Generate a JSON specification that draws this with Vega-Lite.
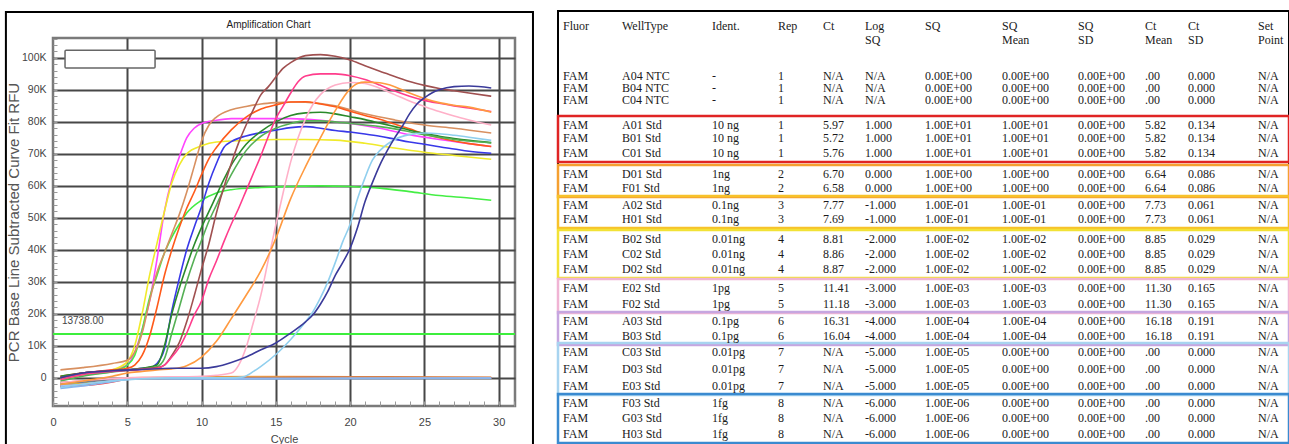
{
"$schema": "https://vega.github.io/schema/vega-lite/v6.json",
"background": "white",
"padding": {"left": 3, "top": 9, "right": 0, "bottom": 0},
"spacing": 20,
"config": {"font": "Liberation Sans", "view": {"stroke": null}},
"datasets": {
"curves": [
{"well":"A04","cycle":0.5,"rfu":-2200},{"well":"A04","cycle":2,"rfu":-1800},{"well":"A04","cycle":4,"rfu":-800},{"well":"A04","cycle":5,"rfu":-200},{"well":"A04","cycle":6,"rfu":100},{"well":"A04","cycle":10,"rfu":300},{"well":"A04","cycle":16,"rfu":400},{"well":"A04","cycle":22,"rfu":300},{"well":"A04","cycle":29.5,"rfu":200},
{"well":"C04","cycle":0.5,"rfu":-2800},{"well":"C04","cycle":2,"rfu":-2200},{"well":"C04","cycle":4,"rfu":-1000},{"well":"C04","cycle":5,"rfu":-300},{"well":"C04","cycle":7,"rfu":0},{"well":"C04","cycle":16,"rfu":0},{"well":"C04","cycle":20,"rfu":-100},{"well":"C04","cycle":29.5,"rfu":0},
{"well":"C03","cycle":0.5,"rfu":-2000},{"well":"C03","cycle":2,"rfu":-1500},{"well":"C03","cycle":4,"rfu":-600},{"well":"C03","cycle":6,"rfu":0},{"well":"C03","cycle":12,"rfu":100},{"well":"C03","cycle":21,"rfu":0},{"well":"C03","cycle":29.5,"rfu":0},
{"well":"D03","cycle":0.5,"rfu":-1500},{"well":"D03","cycle":2,"rfu":-1000},{"well":"D03","cycle":4,"rfu":-500},{"well":"D03","cycle":6,"rfu":0},{"well":"D03","cycle":14,"rfu":100},{"well":"D03","cycle":22,"rfu":200},{"well":"D03","cycle":29.5,"rfu":100},
{"well":"E03","cycle":0.5,"rfu":-2500},{"well":"E03","cycle":2,"rfu":-2400},{"well":"E03","cycle":4,"rfu":-1300},{"well":"E03","cycle":5,"rfu":-400},{"well":"E03","cycle":7,"rfu":0},{"well":"E03","cycle":29.5,"rfu":0},
{"well":"G03","cycle":0.5,"rfu":-1800},{"well":"G03","cycle":3,"rfu":-1000},{"well":"G03","cycle":5,"rfu":-200},{"well":"G03","cycle":29.5,"rfu":0},
{"well":"H03","cycle":0.5,"rfu":-2400},{"well":"H03","cycle":3,"rfu":-1600},{"well":"H03","cycle":5,"rfu":-300},{"well":"H03","cycle":29.5,"rfu":50},
{"well":"F03","cycle":0.5,"rfu":-2600},{"well":"F03","cycle":2,"rfu":-2000},{"well":"F03","cycle":4,"rfu":-900},{"well":"F03","cycle":6,"rfu":-200},{"well":"F03","cycle":10,"rfu":-200},{"well":"F03","cycle":29.5,"rfu":-100},
{"well":"B04","cycle":0.5,"rfu":-3300},{"well":"B04","cycle":2,"rfu":-2500},{"well":"B04","cycle":4,"rfu":-1200},{"well":"B04","cycle":5,"rfu":-500},{"well":"B04","cycle":6,"rfu":-300},{"well":"B04","cycle":12,"rfu":-400},{"well":"B04","cycle":20,"rfu":-200},{"well":"B04","cycle":29.5,"rfu":-100},
{"well":"A01","cycle":0.5,"rfu":300},{"well":"A01","cycle":2,"rfu":1500},{"well":"A01","cycle":4,"rfu":2500},{"well":"A01","cycle":5,"rfu":4000},{"well":"A01","cycle":5.5,"rfu":8000},{"well":"A01","cycle":6,"rfu":15000},{"well":"A01","cycle":6.5,"rfu":24000},{"well":"A01","cycle":7,"rfu":37000},{"well":"A01","cycle":7.5,"rfu":52000},{"well":"A01","cycle":8,"rfu":62000},{"well":"A01","cycle":8.5,"rfu":69000},{"well":"A01","cycle":9,"rfu":75000},{"well":"A01","cycle":9.5,"rfu":78000},{"well":"A01","cycle":10,"rfu":79500},{"well":"A01","cycle":11,"rfu":80500},{"well":"A01","cycle":12,"rfu":81000},{"well":"A01","cycle":14,"rfu":81000},{"well":"A01","cycle":16,"rfu":81000},{"well":"A01","cycle":18,"rfu":80500},{"well":"A01","cycle":20,"rfu":79500},{"well":"A01","cycle":22,"rfu":78000},{"well":"A01","cycle":24,"rfu":76000},{"well":"A01","cycle":26,"rfu":74500},{"well":"A01","cycle":28,"rfu":73200},{"well":"A01","cycle":29.5,"rfu":72300},
{"well":"B01","cycle":0.5,"rfu":-500},{"well":"B01","cycle":2,"rfu":1000},{"well":"B01","cycle":4,"rfu":2500},{"well":"B01","cycle":5,"rfu":5000},{"well":"B01","cycle":5.5,"rfu":10000},{"well":"B01","cycle":6,"rfu":20000},{"well":"B01","cycle":6.5,"rfu":32000},{"well":"B01","cycle":7,"rfu":42000},{"well":"B01","cycle":7.5,"rfu":52000},{"well":"B01","cycle":8,"rfu":61000},{"well":"B01","cycle":8.5,"rfu":66500},{"well":"B01","cycle":9,"rfu":70000},{"well":"B01","cycle":10,"rfu":72500},{"well":"B01","cycle":11,"rfu":73700},{"well":"B01","cycle":13,"rfu":74200},{"well":"B01","cycle":15,"rfu":74500},{"well":"B01","cycle":17,"rfu":74500},{"well":"B01","cycle":19,"rfu":74300},{"well":"B01","cycle":21,"rfu":73300},{"well":"B01","cycle":23,"rfu":71800},{"well":"B01","cycle":25,"rfu":70500},{"well":"B01","cycle":27,"rfu":69500},{"well":"B01","cycle":29.5,"rfu":68300},
{"well":"C01","cycle":0.5,"rfu":0},{"well":"C01","cycle":2,"rfu":1000},{"well":"C01","cycle":4,"rfu":2000},{"well":"C01","cycle":5,"rfu":4000},{"well":"C01","cycle":5.5,"rfu":7000},{"well":"C01","cycle":6,"rfu":15000},{"well":"C01","cycle":6.5,"rfu":25000},{"well":"C01","cycle":7,"rfu":32000},{"well":"C01","cycle":7.5,"rfu":39000},{"well":"C01","cycle":8,"rfu":44000},{"well":"C01","cycle":8.5,"rfu":48000},{"well":"C01","cycle":9,"rfu":51500},{"well":"C01","cycle":10,"rfu":55500},{"well":"C01","cycle":11,"rfu":57800},{"well":"C01","cycle":12,"rfu":58800},{"well":"C01","cycle":14,"rfu":59500},{"well":"C01","cycle":16,"rfu":59800},{"well":"C01","cycle":18,"rfu":60000},{"well":"C01","cycle":20,"rfu":59800},{"well":"C01","cycle":22,"rfu":59300},{"well":"C01","cycle":24,"rfu":58200},{"well":"C01","cycle":26,"rfu":57000},{"well":"C01","cycle":28,"rfu":56200},{"well":"C01","cycle":29.5,"rfu":55500},
{"well":"D01","cycle":0.5,"rfu":2500},{"well":"D01","cycle":2,"rfu":3200},{"well":"D01","cycle":4,"rfu":4500},{"well":"D01","cycle":5,"rfu":5500},{"well":"D01","cycle":5.5,"rfu":8000},{"well":"D01","cycle":6,"rfu":14000},{"well":"D01","cycle":6.5,"rfu":24000},{"well":"D01","cycle":7,"rfu":33000},{"well":"D01","cycle":7.5,"rfu":39000},{"well":"D01","cycle":8,"rfu":45000},{"well":"D01","cycle":8.5,"rfu":51000},{"well":"D01","cycle":9,"rfu":58000},{"well":"D01","cycle":9.5,"rfu":66000},{"well":"D01","cycle":10,"rfu":74000},{"well":"D01","cycle":10.5,"rfu":79000},{"well":"D01","cycle":11,"rfu":81500},{"well":"D01","cycle":12,"rfu":83800},{"well":"D01","cycle":13,"rfu":84800},{"well":"D01","cycle":14,"rfu":85600},{"well":"D01","cycle":15,"rfu":86000},{"well":"D01","cycle":16,"rfu":86200},{"well":"D01","cycle":17,"rfu":86100},{"well":"D01","cycle":19,"rfu":85000},{"well":"D01","cycle":21,"rfu":82500},{"well":"D01","cycle":23,"rfu":80600},{"well":"D01","cycle":25,"rfu":79000},{"well":"D01","cycle":27,"rfu":78000},{"well":"D01","cycle":29.5,"rfu":76500},
{"well":"F01","cycle":0.5,"rfu":500},{"well":"F01","cycle":2,"rfu":1500},{"well":"F01","cycle":4,"rfu":2500},{"well":"F01","cycle":5,"rfu":3000},{"well":"F01","cycle":5.5,"rfu":4000},{"well":"F01","cycle":6,"rfu":7000},{"well":"F01","cycle":6.5,"rfu":13000},{"well":"F01","cycle":7,"rfu":22000},{"well":"F01","cycle":7.5,"rfu":32000},{"well":"F01","cycle":8,"rfu":40000},{"well":"F01","cycle":8.5,"rfu":47000},{"well":"F01","cycle":9,"rfu":53000},{"well":"F01","cycle":9.5,"rfu":58000},{"well":"F01","cycle":10,"rfu":63500},{"well":"F01","cycle":10.5,"rfu":68500},{"well":"F01","cycle":11,"rfu":72000},{"well":"F01","cycle":12,"rfu":77500},{"well":"F01","cycle":13,"rfu":81500},{"well":"F01","cycle":14,"rfu":84000},{"well":"F01","cycle":15,"rfu":85300},{"well":"F01","cycle":16,"rfu":86200},{"well":"F01","cycle":17,"rfu":86300},{"well":"F01","cycle":18,"rfu":85600},{"well":"F01","cycle":19,"rfu":84700},{"well":"F01","cycle":20,"rfu":83300},{"well":"F01","cycle":21,"rfu":82000},{"well":"F01","cycle":22,"rfu":80800},{"well":"F01","cycle":23,"rfu":79300},{"well":"F01","cycle":24,"rfu":77800},{"well":"F01","cycle":25,"rfu":76200},{"well":"F01","cycle":26,"rfu":75000},{"well":"F01","cycle":27,"rfu":74000},{"well":"F01","cycle":28,"rfu":73200},{"well":"F01","cycle":29.5,"rfu":72300},
{"well":"A02","cycle":0.5,"rfu":0},{"well":"A02","cycle":2,"rfu":1500},{"well":"A02","cycle":4,"rfu":2200},{"well":"A02","cycle":5,"rfu":2500},{"well":"A02","cycle":6,"rfu":3000},{"well":"A02","cycle":6.5,"rfu":3200},{"well":"A02","cycle":7,"rfu":4500},{"well":"A02","cycle":7.5,"rfu":9000},{"well":"A02","cycle":8,"rfu":21000},{"well":"A02","cycle":8.5,"rfu":31000},{"well":"A02","cycle":9,"rfu":40000},{"well":"A02","cycle":9.5,"rfu":47000},{"well":"A02","cycle":10,"rfu":53500},{"well":"A02","cycle":10.5,"rfu":61000},{"well":"A02","cycle":11,"rfu":67000},{"well":"A02","cycle":11.5,"rfu":72000},{"well":"A02","cycle":12,"rfu":73800},{"well":"A02","cycle":13,"rfu":75600},{"well":"A02","cycle":14,"rfu":76600},{"well":"A02","cycle":15,"rfu":77400},{"well":"A02","cycle":16,"rfu":78200},{"well":"A02","cycle":17,"rfu":78500},{"well":"A02","cycle":18,"rfu":78000},{"well":"A02","cycle":19,"rfu":77300},{"well":"A02","cycle":20,"rfu":76800},{"well":"A02","cycle":21,"rfu":76200},{"well":"A02","cycle":22,"rfu":75500},{"well":"A02","cycle":23,"rfu":74600},{"well":"A02","cycle":24,"rfu":73700},{"well":"A02","cycle":25,"rfu":73000},{"well":"A02","cycle":26,"rfu":72200},{"well":"A02","cycle":27,"rfu":71500},{"well":"A02","cycle":28,"rfu":70800},{"well":"A02","cycle":29.5,"rfu":70200},
{"well":"H01","cycle":0.5,"rfu":500},{"well":"H01","cycle":2,"rfu":1500},{"well":"H01","cycle":4,"rfu":2200},{"well":"H01","cycle":5,"rfu":2500},{"well":"H01","cycle":6,"rfu":3000},{"well":"H01","cycle":7,"rfu":4000},{"well":"H01","cycle":7.5,"rfu":10000},{"well":"H01","cycle":8,"rfu":20000},{"well":"H01","cycle":8.5,"rfu":28000},{"well":"H01","cycle":9,"rfu":35000},{"well":"H01","cycle":9.5,"rfu":41500},{"well":"H01","cycle":10,"rfu":47000},{"well":"H01","cycle":10.5,"rfu":52000},{"well":"H01","cycle":11,"rfu":57000},{"well":"H01","cycle":11.5,"rfu":62000},{"well":"H01","cycle":12,"rfu":66500},{"well":"H01","cycle":12.5,"rfu":70000},{"well":"H01","cycle":13,"rfu":73000},{"well":"H01","cycle":14,"rfu":77000},{"well":"H01","cycle":15,"rfu":80000},{"well":"H01","cycle":16,"rfu":82000},{"well":"H01","cycle":17,"rfu":82800},{"well":"H01","cycle":18,"rfu":83000},{"well":"H01","cycle":19,"rfu":82500},{"well":"H01","cycle":20,"rfu":81600},{"well":"H01","cycle":21,"rfu":80700},{"well":"H01","cycle":22,"rfu":79600},{"well":"H01","cycle":23,"rfu":78500},{"well":"H01","cycle":24,"rfu":77400},{"well":"H01","cycle":25,"rfu":76400},{"well":"H01","cycle":26,"rfu":75500},{"well":"H01","cycle":27,"rfu":74800},{"well":"H01","cycle":28,"rfu":74200},{"well":"H01","cycle":29.5,"rfu":73500},
{"well":"B02","cycle":0.5,"rfu":-1000},{"well":"B02","cycle":2,"rfu":500},{"well":"B02","cycle":4,"rfu":1800},{"well":"B02","cycle":5,"rfu":2300},{"well":"B02","cycle":6,"rfu":2800},{"well":"B02","cycle":7,"rfu":3500},{"well":"B02","cycle":7.5,"rfu":6000},{"well":"B02","cycle":8,"rfu":14000},{"well":"B02","cycle":8.5,"rfu":22000},{"well":"B02","cycle":9,"rfu":30000},{"well":"B02","cycle":9.5,"rfu":37000},{"well":"B02","cycle":10,"rfu":43000},{"well":"B02","cycle":10.5,"rfu":49000},{"well":"B02","cycle":11,"rfu":54000},{"well":"B02","cycle":11.5,"rfu":59000},{"well":"B02","cycle":12,"rfu":63500},{"well":"B02","cycle":12.5,"rfu":67500},{"well":"B02","cycle":13,"rfu":71000},{"well":"B02","cycle":14,"rfu":75500},{"well":"B02","cycle":15,"rfu":78000},{"well":"B02","cycle":16,"rfu":79500},{"well":"B02","cycle":17,"rfu":80300},{"well":"B02","cycle":18,"rfu":80300},{"well":"B02","cycle":19,"rfu":80000},{"well":"B02","cycle":20,"rfu":79500},{"well":"B02","cycle":21,"rfu":79000},{"well":"B02","cycle":22,"rfu":78500},{"well":"B02","cycle":23,"rfu":77800},{"well":"B02","cycle":24,"rfu":76900},{"well":"B02","cycle":25,"rfu":76000},{"well":"B02","cycle":26,"rfu":75200},{"well":"B02","cycle":27,"rfu":74500},{"well":"B02","cycle":28,"rfu":74000},{"well":"B02","cycle":29.5,"rfu":73400},
{"well":"C02","cycle":0.5,"rfu":0},{"well":"C02","cycle":2,"rfu":1500},{"well":"C02","cycle":4,"rfu":2300},{"well":"C02","cycle":6,"rfu":2800},{"well":"C02","cycle":7,"rfu":3200},{"well":"C02","cycle":7.5,"rfu":4000},{"well":"C02","cycle":8,"rfu":7000},{"well":"C02","cycle":8.5,"rfu":11000},{"well":"C02","cycle":9,"rfu":17500},{"well":"C02","cycle":9.5,"rfu":25500},{"well":"C02","cycle":10,"rfu":34000},{"well":"C02","cycle":10.5,"rfu":42000},{"well":"C02","cycle":11,"rfu":51500},{"well":"C02","cycle":11.5,"rfu":59500},{"well":"C02","cycle":12,"rfu":67000},{"well":"C02","cycle":12.5,"rfu":73500},{"well":"C02","cycle":13,"rfu":79000},{"well":"C02","cycle":13.5,"rfu":84000},{"well":"C02","cycle":14,"rfu":88500},{"well":"C02","cycle":14.5,"rfu":91000},{"well":"C02","cycle":15,"rfu":94000},{"well":"C02","cycle":15.5,"rfu":96800},{"well":"C02","cycle":16,"rfu":98500},{"well":"C02","cycle":17,"rfu":100700},{"well":"C02","cycle":18,"rfu":101000},{"well":"C02","cycle":19,"rfu":100500},{"well":"C02","cycle":20,"rfu":99300},{"well":"C02","cycle":21,"rfu":97500},{"well":"C02","cycle":22,"rfu":95800},{"well":"C02","cycle":23,"rfu":94200},{"well":"C02","cycle":24,"rfu":92600},{"well":"C02","cycle":25,"rfu":91400},{"well":"C02","cycle":26,"rfu":90400},{"well":"C02","cycle":27,"rfu":89700},{"well":"C02","cycle":28,"rfu":89000},{"well":"C02","cycle":29.5,"rfu":88000},
{"well":"D02","cycle":0.5,"rfu":-500},{"well":"D02","cycle":2,"rfu":1000},{"well":"D02","cycle":4,"rfu":2000},{"well":"D02","cycle":6,"rfu":2600},{"well":"D02","cycle":7,"rfu":3000},{"well":"D02","cycle":7.5,"rfu":4000},{"well":"D02","cycle":8,"rfu":6500},{"well":"D02","cycle":8.5,"rfu":9500},{"well":"D02","cycle":9,"rfu":14000},{"well":"D02","cycle":9.5,"rfu":19500},{"well":"D02","cycle":10,"rfu":24000},{"well":"D02","cycle":10.5,"rfu":31000},{"well":"D02","cycle":11,"rfu":36500},{"well":"D02","cycle":11.5,"rfu":42500},{"well":"D02","cycle":12,"rfu":48000},{"well":"D02","cycle":12.5,"rfu":53000},{"well":"D02","cycle":13,"rfu":58500},{"well":"D02","cycle":13.5,"rfu":64000},{"well":"D02","cycle":14,"rfu":69500},{"well":"D02","cycle":14.5,"rfu":75500},{"well":"D02","cycle":15,"rfu":81000},{"well":"D02","cycle":15.5,"rfu":85000},{"well":"D02","cycle":16,"rfu":89000},{"well":"D02","cycle":16.5,"rfu":92500},{"well":"D02","cycle":17,"rfu":94300},{"well":"D02","cycle":18,"rfu":95000},{"well":"D02","cycle":19,"rfu":95000},{"well":"D02","cycle":20,"rfu":94400},{"well":"D02","cycle":21,"rfu":93200},{"well":"D02","cycle":22,"rfu":91500},{"well":"D02","cycle":23,"rfu":89600},{"well":"D02","cycle":24,"rfu":88000},{"well":"D02","cycle":25,"rfu":86700},{"well":"D02","cycle":26,"rfu":85800},{"well":"D02","cycle":27,"rfu":85000},{"well":"D02","cycle":28,"rfu":84300},{"well":"D02","cycle":29.5,"rfu":83200},
{"well":"E02","cycle":0.5,"rfu":-1500},{"well":"E02","cycle":3,"rfu":-500},{"well":"E02","cycle":5,"rfu":0},{"well":"E02","cycle":8,"rfu":300},{"well":"E02","cycle":10,"rfu":500},{"well":"E02","cycle":11,"rfu":800},{"well":"E02","cycle":12,"rfu":1500},{"well":"E02","cycle":12.5,"rfu":4000},{"well":"E02","cycle":13,"rfu":9500},{"well":"E02","cycle":13.5,"rfu":17500},{"well":"E02","cycle":14,"rfu":26000},{"well":"E02","cycle":14.5,"rfu":37000},{"well":"E02","cycle":15,"rfu":47800},{"well":"E02","cycle":15.5,"rfu":58000},{"well":"E02","cycle":16,"rfu":67500},{"well":"E02","cycle":16.5,"rfu":75000},{"well":"E02","cycle":17,"rfu":81000},{"well":"E02","cycle":17.5,"rfu":85500},{"well":"E02","cycle":18,"rfu":88500},{"well":"E02","cycle":19,"rfu":91500},{"well":"E02","cycle":20,"rfu":92300},{"well":"E02","cycle":21,"rfu":92000},{"well":"E02","cycle":22,"rfu":90500},{"well":"E02","cycle":23,"rfu":88500},{"well":"E02","cycle":24,"rfu":86500},{"well":"E02","cycle":25,"rfu":84800},{"well":"E02","cycle":26,"rfu":83200},{"well":"E02","cycle":27,"rfu":81800},{"well":"E02","cycle":28,"rfu":80600},{"well":"E02","cycle":29.5,"rfu":79000},
{"well":"F02","cycle":0.5,"rfu":-2000},{"well":"F02","cycle":2,"rfu":-1000},{"well":"F02","cycle":4,"rfu":500},{"well":"F02","cycle":5,"rfu":1500},{"well":"F02","cycle":6,"rfu":2000},{"well":"F02","cycle":7,"rfu":2500},{"well":"F02","cycle":8,"rfu":2800},{"well":"F02","cycle":9,"rfu":3800},{"well":"F02","cycle":10,"rfu":6500},{"well":"F02","cycle":11,"rfu":11400},{"well":"F02","cycle":12,"rfu":18500},{"well":"F02","cycle":13,"rfu":25800},{"well":"F02","cycle":14,"rfu":33500},{"well":"F02","cycle":15,"rfu":43600},{"well":"F02","cycle":16,"rfu":56000},{"well":"F02","cycle":17,"rfu":66000},{"well":"F02","cycle":18,"rfu":75000},{"well":"F02","cycle":19,"rfu":83500},{"well":"F02","cycle":20,"rfu":90300},{"well":"F02","cycle":20.5,"rfu":92000},{"well":"F02","cycle":21,"rfu":92400},{"well":"F02","cycle":22,"rfu":92200},{"well":"F02","cycle":23,"rfu":91000},{"well":"F02","cycle":24,"rfu":89000},{"well":"F02","cycle":25,"rfu":87300},{"well":"F02","cycle":26,"rfu":86000},{"well":"F02","cycle":27,"rfu":85200},{"well":"F02","cycle":28,"rfu":84600},{"well":"F02","cycle":29.5,"rfu":83000},
{"well":"A03","cycle":0.5,"rfu":-3000},{"well":"A03","cycle":2,"rfu":-2000},{"well":"A03","cycle":4,"rfu":-1000},{"well":"A03","cycle":6,"rfu":-300},{"well":"A03","cycle":8,"rfu":0},{"well":"A03","cycle":10,"rfu":0},{"well":"A03","cycle":12,"rfu":0},{"well":"A03","cycle":12.8,"rfu":300},{"well":"A03","cycle":13.5,"rfu":2000},{"well":"A03","cycle":14,"rfu":3600},{"well":"A03","cycle":15,"rfu":7300},{"well":"A03","cycle":16,"rfu":12000},{"well":"A03","cycle":17,"rfu":17500},{"well":"A03","cycle":17.5,"rfu":20700},{"well":"A03","cycle":18,"rfu":25000},{"well":"A03","cycle":18.5,"rfu":30000},{"well":"A03","cycle":19,"rfu":36000},{"well":"A03","cycle":19.5,"rfu":42500},{"well":"A03","cycle":20,"rfu":48000},{"well":"A03","cycle":20.5,"rfu":56000},{"well":"A03","cycle":21,"rfu":62500},{"well":"A03","cycle":21.5,"rfu":68000},{"well":"A03","cycle":22,"rfu":71000},{"well":"A03","cycle":22.5,"rfu":73000},{"well":"A03","cycle":23,"rfu":74500},{"well":"A03","cycle":24,"rfu":76000},{"well":"A03","cycle":25,"rfu":76500},{"well":"A03","cycle":26,"rfu":76300},{"well":"A03","cycle":27,"rfu":75800},{"well":"A03","cycle":28,"rfu":75200},{"well":"A03","cycle":29.5,"rfu":74200},
{"well":"B03","cycle":0.5,"rfu":0},{"well":"B03","cycle":2,"rfu":1500},{"well":"B03","cycle":4,"rfu":2200},{"well":"B03","cycle":6,"rfu":2600},{"well":"B03","cycle":8,"rfu":3000},{"well":"B03","cycle":10,"rfu":3000},{"well":"B03","cycle":11,"rfu":3500},{"well":"B03","cycle":12,"rfu":4800},{"well":"B03","cycle":13,"rfu":6500},{"well":"B03","cycle":14,"rfu":8800},{"well":"B03","cycle":15,"rfu":10900},{"well":"B03","cycle":16,"rfu":14000},{"well":"B03","cycle":17,"rfu":17500},{"well":"B03","cycle":17.5,"rfu":19700},{"well":"B03","cycle":18,"rfu":23000},{"well":"B03","cycle":18.5,"rfu":27000},{"well":"B03","cycle":19,"rfu":32000},{"well":"B03","cycle":19.5,"rfu":36000},{"well":"B03","cycle":20,"rfu":40500},{"well":"B03","cycle":20.5,"rfu":47000},{"well":"B03","cycle":21,"rfu":55000},{"well":"B03","cycle":21.5,"rfu":61000},{"well":"B03","cycle":22,"rfu":66500},{"well":"B03","cycle":22.5,"rfu":71000},{"well":"B03","cycle":23,"rfu":75000},{"well":"B03","cycle":23.5,"rfu":78500},{"well":"B03","cycle":24,"rfu":82500},{"well":"B03","cycle":24.5,"rfu":85600},{"well":"B03","cycle":25,"rfu":87500},{"well":"B03","cycle":25.5,"rfu":89000},{"well":"B03","cycle":26,"rfu":90000},{"well":"B03","cycle":27,"rfu":91000},{"well":"B03","cycle":28,"rfu":91200},{"well":"B03","cycle":29.5,"rfu":90600}
],
"boxes": [
{"first":4,"last":6,"grp":"10 ng"},{"first":7,"last":8,"grp":"1ng"},{"first":9,"last":10,"grp":"0.1ng"},{"first":11,"last":13,"grp":"0.01ng"},{"first":14,"last":15,"grp":"1pg"},{"first":16,"last":17,"grp":"0.1pg"},{"first":18,"last":20,"grp":"0.01pg"},{"first":21,"last":23,"grp":"1fg"}
],
"header": [
{"row":0,"col":1,"text":"Fluor"},{"row":0,"col":2,"text":"WellType"},{"row":0,"col":3,"text":"Ident."},{"row":0,"col":4,"text":"Rep"},{"row":0,"col":5,"text":"Ct"},{"row":0,"col":6,"text":"Log\nSQ"},{"row":0,"col":7,"text":"SQ"},{"row":0,"col":8,"text":"SQ\nMean"},{"row":0,"col":9,"text":"SQ\nSD"},{"row":0,"col":10,"text":"Ct\nMean"},{"row":0,"col":11,"text":"Ct\nSD"},{"row":0,"col":12,"text":"Set\nPoint"}
],
"cells": [
{"row":1,"col":1,"text":"FAM"},{"row":1,"col":2,"text":"A04 NTC"},{"row":1,"col":3,"text":"-"},{"row":1,"col":4,"text":"1"},{"row":1,"col":5,"text":"N/A"},{"row":1,"col":6,"text":"N/A"},{"row":1,"col":7,"text":"0.00E+00"},{"row":1,"col":8,"text":"0.00E+00"},{"row":1,"col":9,"text":"0.00E+00"},{"row":1,"col":10,"text":".00"},{"row":1,"col":11,"text":"0.000"},{"row":1,"col":12,"text":"N/A"},
{"row":2,"col":1,"text":"FAM"},{"row":2,"col":2,"text":"B04 NTC"},{"row":2,"col":3,"text":"-"},{"row":2,"col":4,"text":"1"},{"row":2,"col":5,"text":"N/A"},{"row":2,"col":6,"text":"N/A"},{"row":2,"col":7,"text":"0.00E+00"},{"row":2,"col":8,"text":"0.00E+00"},{"row":2,"col":9,"text":"0.00E+00"},{"row":2,"col":10,"text":".00"},{"row":2,"col":11,"text":"0.000"},{"row":2,"col":12,"text":"N/A"},
{"row":3,"col":1,"text":"FAM"},{"row":3,"col":2,"text":"C04 NTC"},{"row":3,"col":3,"text":"-"},{"row":3,"col":4,"text":"1"},{"row":3,"col":5,"text":"N/A"},{"row":3,"col":6,"text":"N/A"},{"row":3,"col":7,"text":"0.00E+00"},{"row":3,"col":8,"text":"0.00E+00"},{"row":3,"col":9,"text":"0.00E+00"},{"row":3,"col":10,"text":".00"},{"row":3,"col":11,"text":"0.000"},{"row":3,"col":12,"text":"N/A"},
{"row":4,"col":1,"text":"FAM"},{"row":4,"col":2,"text":"A01 Std"},{"row":4,"col":3,"text":"10 ng"},{"row":4,"col":4,"text":"1"},{"row":4,"col":5,"text":"5.97"},{"row":4,"col":6,"text":"1.000"},{"row":4,"col":7,"text":"1.00E+01"},{"row":4,"col":8,"text":"1.00E+01"},{"row":4,"col":9,"text":"0.00E+00"},{"row":4,"col":10,"text":"5.82"},{"row":4,"col":11,"text":"0.134"},{"row":4,"col":12,"text":"N/A"},
{"row":5,"col":1,"text":"FAM"},{"row":5,"col":2,"text":"B01 Std"},{"row":5,"col":3,"text":"10 ng"},{"row":5,"col":4,"text":"1"},{"row":5,"col":5,"text":"5.72"},{"row":5,"col":6,"text":"1.000"},{"row":5,"col":7,"text":"1.00E+01"},{"row":5,"col":8,"text":"1.00E+01"},{"row":5,"col":9,"text":"0.00E+00"},{"row":5,"col":10,"text":"5.82"},{"row":5,"col":11,"text":"0.134"},{"row":5,"col":12,"text":"N/A"},
{"row":6,"col":1,"text":"FAM"},{"row":6,"col":2,"text":"C01 Std"},{"row":6,"col":3,"text":"10 ng"},{"row":6,"col":4,"text":"1"},{"row":6,"col":5,"text":"5.76"},{"row":6,"col":6,"text":"1.000"},{"row":6,"col":7,"text":"1.00E+01"},{"row":6,"col":8,"text":"1.00E+01"},{"row":6,"col":9,"text":"0.00E+00"},{"row":6,"col":10,"text":"5.82"},{"row":6,"col":11,"text":"0.134"},{"row":6,"col":12,"text":"N/A"},
{"row":7,"col":1,"text":"FAM"},{"row":7,"col":2,"text":"D01 Std"},{"row":7,"col":3,"text":"1ng"},{"row":7,"col":4,"text":"2"},{"row":7,"col":5,"text":"6.70"},{"row":7,"col":6,"text":"0.000"},{"row":7,"col":7,"text":"1.00E+00"},{"row":7,"col":8,"text":"1.00E+00"},{"row":7,"col":9,"text":"0.00E+00"},{"row":7,"col":10,"text":"6.64"},{"row":7,"col":11,"text":"0.086"},{"row":7,"col":12,"text":"N/A"},
{"row":8,"col":1,"text":"FAM"},{"row":8,"col":2,"text":"F01 Std"},{"row":8,"col":3,"text":"1ng"},{"row":8,"col":4,"text":"2"},{"row":8,"col":5,"text":"6.58"},{"row":8,"col":6,"text":"0.000"},{"row":8,"col":7,"text":"1.00E+00"},{"row":8,"col":8,"text":"1.00E+00"},{"row":8,"col":9,"text":"0.00E+00"},{"row":8,"col":10,"text":"6.64"},{"row":8,"col":11,"text":"0.086"},{"row":8,"col":12,"text":"N/A"},
{"row":9,"col":1,"text":"FAM"},{"row":9,"col":2,"text":"A02 Std"},{"row":9,"col":3,"text":"0.1ng"},{"row":9,"col":4,"text":"3"},{"row":9,"col":5,"text":"7.77"},{"row":9,"col":6,"text":"-1.000"},{"row":9,"col":7,"text":"1.00E-01"},{"row":9,"col":8,"text":"1.00E-01"},{"row":9,"col":9,"text":"0.00E+00"},{"row":9,"col":10,"text":"7.73"},{"row":9,"col":11,"text":"0.061"},{"row":9,"col":12,"text":"N/A"},
{"row":10,"col":1,"text":"FAM"},{"row":10,"col":2,"text":"H01 Std"},{"row":10,"col":3,"text":"0.1ng"},{"row":10,"col":4,"text":"3"},{"row":10,"col":5,"text":"7.69"},{"row":10,"col":6,"text":"-1.000"},{"row":10,"col":7,"text":"1.00E-01"},{"row":10,"col":8,"text":"1.00E-01"},{"row":10,"col":9,"text":"0.00E+00"},{"row":10,"col":10,"text":"7.73"},{"row":10,"col":11,"text":"0.061"},{"row":10,"col":12,"text":"N/A"},
{"row":11,"col":1,"text":"FAM"},{"row":11,"col":2,"text":"B02 Std"},{"row":11,"col":3,"text":"0.01ng"},{"row":11,"col":4,"text":"4"},{"row":11,"col":5,"text":"8.81"},{"row":11,"col":6,"text":"-2.000"},{"row":11,"col":7,"text":"1.00E-02"},{"row":11,"col":8,"text":"1.00E-02"},{"row":11,"col":9,"text":"0.00E+00"},{"row":11,"col":10,"text":"8.85"},{"row":11,"col":11,"text":"0.029"},{"row":11,"col":12,"text":"N/A"},
{"row":12,"col":1,"text":"FAM"},{"row":12,"col":2,"text":"C02 Std"},{"row":12,"col":3,"text":"0.01ng"},{"row":12,"col":4,"text":"4"},{"row":12,"col":5,"text":"8.86"},{"row":12,"col":6,"text":"-2.000"},{"row":12,"col":7,"text":"1.00E-02"},{"row":12,"col":8,"text":"1.00E-02"},{"row":12,"col":9,"text":"0.00E+00"},{"row":12,"col":10,"text":"8.85"},{"row":12,"col":11,"text":"0.029"},{"row":12,"col":12,"text":"N/A"},
{"row":13,"col":1,"text":"FAM"},{"row":13,"col":2,"text":"D02 Std"},{"row":13,"col":3,"text":"0.01ng"},{"row":13,"col":4,"text":"4"},{"row":13,"col":5,"text":"8.87"},{"row":13,"col":6,"text":"-2.000"},{"row":13,"col":7,"text":"1.00E-02"},{"row":13,"col":8,"text":"1.00E-02"},{"row":13,"col":9,"text":"0.00E+00"},{"row":13,"col":10,"text":"8.85"},{"row":13,"col":11,"text":"0.029"},{"row":13,"col":12,"text":"N/A"},
{"row":14,"col":1,"text":"FAM"},{"row":14,"col":2,"text":"E02 Std"},{"row":14,"col":3,"text":"1pg"},{"row":14,"col":4,"text":"5"},{"row":14,"col":5,"text":"11.41"},{"row":14,"col":6,"text":"-3.000"},{"row":14,"col":7,"text":"1.00E-03"},{"row":14,"col":8,"text":"1.00E-03"},{"row":14,"col":9,"text":"0.00E+00"},{"row":14,"col":10,"text":"11.30"},{"row":14,"col":11,"text":"0.165"},{"row":14,"col":12,"text":"N/A"},
{"row":15,"col":1,"text":"FAM"},{"row":15,"col":2,"text":"F02 Std"},{"row":15,"col":3,"text":"1pg"},{"row":15,"col":4,"text":"5"},{"row":15,"col":5,"text":"11.18"},{"row":15,"col":6,"text":"-3.000"},{"row":15,"col":7,"text":"1.00E-03"},{"row":15,"col":8,"text":"1.00E-03"},{"row":15,"col":9,"text":"0.00E+00"},{"row":15,"col":10,"text":"11.30"},{"row":15,"col":11,"text":"0.165"},{"row":15,"col":12,"text":"N/A"},
{"row":16,"col":1,"text":"FAM"},{"row":16,"col":2,"text":"A03 Std"},{"row":16,"col":3,"text":"0.1pg"},{"row":16,"col":4,"text":"6"},{"row":16,"col":5,"text":"16.31"},{"row":16,"col":6,"text":"-4.000"},{"row":16,"col":7,"text":"1.00E-04"},{"row":16,"col":8,"text":"1.00E-04"},{"row":16,"col":9,"text":"0.00E+00"},{"row":16,"col":10,"text":"16.18"},{"row":16,"col":11,"text":"0.191"},{"row":16,"col":12,"text":"N/A"},
{"row":17,"col":1,"text":"FAM"},{"row":17,"col":2,"text":"B03 Std"},{"row":17,"col":3,"text":"0.1pg"},{"row":17,"col":4,"text":"6"},{"row":17,"col":5,"text":"16.04"},{"row":17,"col":6,"text":"-4.000"},{"row":17,"col":7,"text":"1.00E-04"},{"row":17,"col":8,"text":"1.00E-04"},{"row":17,"col":9,"text":"0.00E+00"},{"row":17,"col":10,"text":"16.18"},{"row":17,"col":11,"text":"0.191"},{"row":17,"col":12,"text":"N/A"},
{"row":18,"col":1,"text":"FAM"},{"row":18,"col":2,"text":"C03 Std"},{"row":18,"col":3,"text":"0.01pg"},{"row":18,"col":4,"text":"7"},{"row":18,"col":5,"text":"N/A"},{"row":18,"col":6,"text":"-5.000"},{"row":18,"col":7,"text":"1.00E-05"},{"row":18,"col":8,"text":"0.00E+00"},{"row":18,"col":9,"text":"0.00E+00"},{"row":18,"col":10,"text":".00"},{"row":18,"col":11,"text":"0.000"},{"row":18,"col":12,"text":"N/A"},
{"row":19,"col":1,"text":"FAM"},{"row":19,"col":2,"text":"D03 Std"},{"row":19,"col":3,"text":"0.01pg"},{"row":19,"col":4,"text":"7"},{"row":19,"col":5,"text":"N/A"},{"row":19,"col":6,"text":"-5.000"},{"row":19,"col":7,"text":"1.00E-05"},{"row":19,"col":8,"text":"0.00E+00"},{"row":19,"col":9,"text":"0.00E+00"},{"row":19,"col":10,"text":".00"},{"row":19,"col":11,"text":"0.000"},{"row":19,"col":12,"text":"N/A"},
{"row":20,"col":1,"text":"FAM"},{"row":20,"col":2,"text":"E03 Std"},{"row":20,"col":3,"text":"0.01pg"},{"row":20,"col":4,"text":"7"},{"row":20,"col":5,"text":"N/A"},{"row":20,"col":6,"text":"-5.000"},{"row":20,"col":7,"text":"1.00E-05"},{"row":20,"col":8,"text":"0.00E+00"},{"row":20,"col":9,"text":"0.00E+00"},{"row":20,"col":10,"text":".00"},{"row":20,"col":11,"text":"0.000"},{"row":20,"col":12,"text":"N/A"},
{"row":21,"col":1,"text":"FAM"},{"row":21,"col":2,"text":"F03 Std"},{"row":21,"col":3,"text":"1fg"},{"row":21,"col":4,"text":"8"},{"row":21,"col":5,"text":"N/A"},{"row":21,"col":6,"text":"-6.000"},{"row":21,"col":7,"text":"1.00E-06"},{"row":21,"col":8,"text":"0.00E+00"},{"row":21,"col":9,"text":"0.00E+00"},{"row":21,"col":10,"text":".00"},{"row":21,"col":11,"text":"0.000"},{"row":21,"col":12,"text":"N/A"},
{"row":22,"col":1,"text":"FAM"},{"row":22,"col":2,"text":"G03 Std"},{"row":22,"col":3,"text":"1fg"},{"row":22,"col":4,"text":"8"},{"row":22,"col":5,"text":"N/A"},{"row":22,"col":6,"text":"-6.000"},{"row":22,"col":7,"text":"1.00E-06"},{"row":22,"col":8,"text":"0.00E+00"},{"row":22,"col":9,"text":"0.00E+00"},{"row":22,"col":10,"text":".00"},{"row":22,"col":11,"text":"0.000"},{"row":22,"col":12,"text":"N/A"},
{"row":23,"col":1,"text":"FAM"},{"row":23,"col":2,"text":"H03 Std"},{"row":23,"col":3,"text":"1fg"},{"row":23,"col":4,"text":"8"},{"row":23,"col":5,"text":"N/A"},{"row":23,"col":6,"text":"-6.000"},{"row":23,"col":7,"text":"1.00E-06"},{"row":23,"col":8,"text":"0.00E+00"},{"row":23,"col":9,"text":"0.00E+00"},{"row":23,"col":10,"text":".00"},{"row":23,"col":11,"text":"0.000"},{"row":23,"col":12,"text":"N/A"}
]
},
"hconcat": [
{
"width": 462, "height": 368,
"view": {"stroke": "#7a7a7a", "strokeWidth": 2.5},
"resolve": {"axis": {"x": "independent", "y": "independent"}},
"layer": [
{
"data": {"values": [{}]},
"mark": {"type": "rect", "fill": "white", "fillOpacity": 0, "stroke": "black", "strokeWidth": 2, "clip": false},
"encoding": {
"x": {"datum": -3.17, "type": "quantitative", "axis": null},
"x2": {"datum": 32.31},
"y": {"datum": -22900, "type": "quantitative", "axis": null},
"y2": {"datum": 114300}
}
},
{
"data": {"values": [{}]},
"mark": {"type": "rect", "fill": "white", "stroke": "#666666", "strokeWidth": 1.5, "cornerRadius": 1},
"encoding": {
"x": {"datum": 0.81, "type": "quantitative", "axis": {"orient": "top", "title": "Amplification Chart", "labels": false, "ticks": false, "domain": false, "grid": false, "titleFont": "Liberation Sans", "titleFontSize": 10, "titleFontWeight": "normal", "titleColor": "#222222", "titlePadding": 9, "titleX": 215}},
"x2": {"datum": 6.87},
"y": {"datum": 96800, "type": "quantitative", "axis": null},
"y2": {"datum": 102400}
}
},
{
"data": {"values": [{}]},
"mark": {"type": "rule", "color": "#3cee3c", "strokeWidth": 2},
"encoding": {"y": {"datum": 13738, "type": "quantitative", "axis": null}}
},
{
"data": {"values": [{}]},
"mark": {"type": "text", "align": "left", "baseline": "bottom", "dy": -8, "fontSize": 10, "color": "#444444", "font": "Liberation Sans"},
"encoding": {
"x": {"datum": 0.6, "type": "quantitative", "axis": null},
"y": {"datum": 13738, "type": "quantitative", "axis": null},
"text": {"value": "13738.00"}
}
},
{
"data": {"name": "curves"},
"mark": {"type": "line", "interpolate": "monotone", "strokeWidth": 1.6, "clip": true},
"encoding": {
"x": {"field": "cycle", "type": "quantitative",
"scale": {"domain": [0, 31.1], "nice": false, "zero": false},
"axis": {"title": "Cycle", "values": [0,1,2,3,4,5,6,7,8,9,10,11,12,13,14,15,16,17,18,19,20,21,22,23,24,25,26,27,28,29,30,31],
"labelExpr": "datum.value % 5 === 0 ? datum.label : ''", "labelFlush": false, "labelOverlap": false,
"labelPadding": 15, "labelFontSize": 11, "labelColor": "#444444", "labelFont": "Liberation Sans",
"domain": false, "grid": true, "gridColor": "#474747", "gridWidth": 2,
"gridOpacity": {"condition": {"test": "datum.value % 5 === 0 && datum.value > 0 && datum.value < 31", "value": 1}, "value": 0},
"ticks": true, "tickSize": -5, "tickColor": "#999999", "tickWidth": 1,
"titleFontSize": 11, "titleFontWeight": "normal", "titleColor": "#444444", "titleFont": "Liberation Sans", "titlePadding": 6}},
"y": {"field": "rfu", "type": "quantitative",
"scale": {"domain": [-8800, 106200], "nice": false, "zero": false},
"axis": {"title": "PCR Base Line Subtracted Curve Fit RFU",
"values": [-8000,-6000,-4000,-2000,0,2000,4000,6000,8000,10000,12000,14000,16000,18000,20000,22000,24000,26000,28000,30000,32000,34000,36000,38000,40000,42000,44000,46000,48000,50000,52000,54000,56000,58000,60000,62000,64000,66000,68000,70000,72000,74000,76000,78000,80000,82000,84000,86000,88000,90000,92000,94000,96000,98000,100000,102000,104000,106000],
"labelExpr": "datum.value % 10000 === 0 && datum.value >= 0 ? (datum.value === 0 ? '0' : (datum.value / 1000) + 'K') : ''",
"labelOverlap": false, "labelFlush": false, "labelPadding": 11, "labelFontSize": 10.5, "labelColor": "#444444", "labelFont": "Liberation Sans",
"domain": false, "grid": true, "gridColor": "#474747", "gridWidth": 2,
"gridOpacity": {"condition": {"test": "datum.value % 10000 === 0", "value": 1}, "value": 0},
"ticks": true, "tickSize": -4, "tickColor": "#999999", "tickWidth": 1,
"titleFontSize": 15, "titleFontWeight": "normal", "titleColor": "#555555", "titleFont": "Liberation Sans", "titlePadding": 0}},
"color": {"field": "well", "type": "nominal", "legend": null,
"scale": {"domain": ["A04","B04","C04","C03","D03","E03","F03","G03","H03","A01","B01","C01","D01","F01","A02","H01","B02","C02","D02","E02","F02","A03","B03"],
"range": ["#ffa050","#88b4ee","#202060","#e8d030","#b06040","#ff3030","#a0c4ff","#708090","#cc8855","#ff44ff","#f0ea2a","#44ee44","#d89060","#ff5a1a","#3838e8","#2a8a2a","#55b055","#a05050","#ff3d8c","#ffb0c8","#ff9a40","#90cfee","#3a3a9a"]}},
"order": {"field": "cycle", "type": "quantitative"}
}
}
]
},
{
"width": 731, "height": 407,
"layer": [
{
"data": {"values": [{}]},
"mark": {"type": "rect", "fill": "white", "fillOpacity": 0, "stroke": "black", "strokeWidth": 2, "clip": false},
"encoding": {
"y": {"datum": -1, "type": "quantitative", "axis": null,
"scale": {"domain": [-1,0,1,2,3,4,5,6,7,8,9,10,11,12,13,14,15,16,17,18,19,20,21,22,23,24],
"range": [-27,-17,38,50,62,87,100,115,136,150,167,181,201,216,231,250,266,283,298,314,331,348,365,380,396,415], "zero": false, "nice": false}},
"y2": {"datum": 24}
}
},
{
"data": {"name": "boxes"},
"mark": {"type": "rect", "fill": "white", "fillOpacity": 0, "strokeWidth": 2.5, "yOffset": -9, "y2Offset": 9},
"encoding": {
"y": {"field": "first", "type": "quantitative", "axis": null},
"y2": {"field": "last"},
"stroke": {"field": "grp", "type": "nominal", "legend": null,
"scale": {"domain": ["10 ng","1ng","0.1ng","0.01ng","1pg","0.1pg","0.01pg","1fg"],
"range": ["#e02424","#f5a030","#f7c22a","#f2e236","#f0b4d4","#c6a6e0","#a8d4f0","#3a8ad0"]}}
}
},
{
"data": {"name": "cells"},
"mark": {"type": "text", "align": "left", "baseline": "middle", "font": "Liberation Serif", "fontSize": 12, "color": "#1a1a1a"},
"encoding": {
"x": {"field": "col", "type": "quantitative", "axis": null,
"scale": {"domain": [1,2,3,4,5,6,7,8,9,10,11,12],
"range": [5,64,154,220,265,307,367,444,520,587,630,700], "zero": false, "nice": false}},
"y": {"field": "row", "type": "quantitative", "axis": null},
"text": {"field": "text"}
}
},
{
"data": {"name": "header"},
"mark": {"type": "text", "align": "left", "baseline": "top", "font": "Liberation Serif", "fontSize": 12, "lineHeight": 14, "lineBreak": "\n", "color": "#1a1a1a"},
"encoding": {
"x": {"field": "col", "type": "quantitative", "axis": null},
"y": {"field": "row", "type": "quantitative", "axis": null},
"text": {"field": "text"}
}
}
]
}
]
}
